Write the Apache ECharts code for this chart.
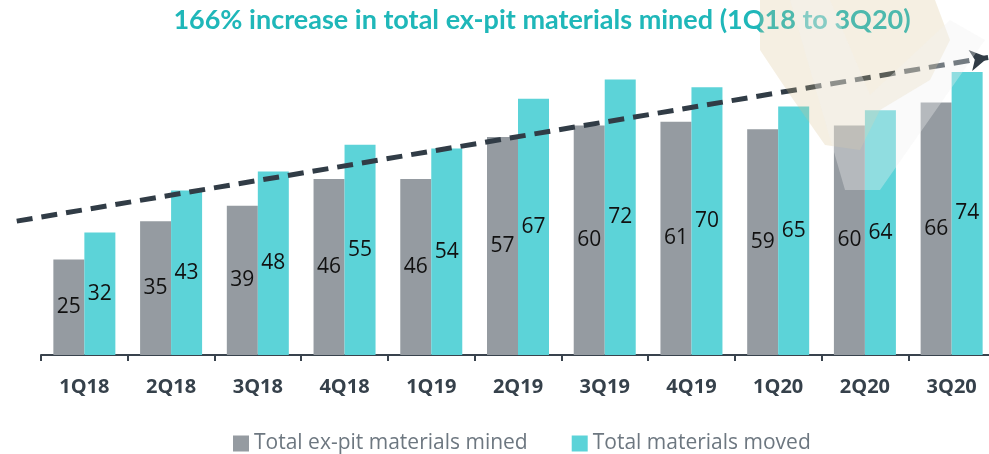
<!DOCTYPE html>
<html><head><meta charset="utf-8">
<script src="https://cdn.jsdelivr.net/npm/echarts@6/dist/echarts.min.js"></script>
<style>html,body{margin:0;padding:0;background:#fff}#c{width:989px;height:454px}</style>
</head><body><div id="c"></div>
<script>
const categories = ['1Q18','2Q18','3Q18','4Q18','1Q19','2Q19','3Q19','4Q19','1Q20','2Q20','3Q20'];
const exPitMined = [25,35,39,46,46,57,60,61,59,60,66];
const materialsMoved = [32,43,48,55,54,67,72,70,65,64,74];
const seriesNames = ['Total ex-pit materials mined','Total materials moved'];
const titleText = '166% increase in total ex-pit materials mined (1Q18 to 3Q20)';
// trend arrow in category-index / value units
const trendStart = [-0.78, 35];
const trendEnd = [10.42, 77.8];

const chart = echarts.init(document.getElementById('c'));
const labelStyle = {show:true, position:'inside', color:'#111', fontSize:21, fontFamily:'Open Sans'};
chart.setOption({
  animation:false,
  title:{text:titleText, left:537, top:2, textAlign:'center',
    textStyle:{color:'#1fb7b9', fontSize:27, fontWeight:'bold', fontFamily:'Lato'}},
  legend:{top:428, left:228, itemWidth:16, itemHeight:16, itemGap:44, icon:'rect',
    textStyle:{color:'#6d7780', fontSize:21, fontFamily:'Open Sans'},
    data:seriesNames},
  grid:[{left:41, right:-6, top:49, bottom:99, outerBoundsMode:'none'},
        {left:0, right:0, top:49, bottom:99, outerBoundsMode:'none'}],
  xAxis:[{type:'category', gridIndex:0, data:categories,
    axisLine:{lineStyle:{color:'#39434d', width:2}},
    axisTick:{show:true, length:6, lineStyle:{color:'#39434d', width:2}},
    axisLabel:{color:'#36414b', fontSize:20, fontWeight:'bold', fontFamily:'Open Sans', margin:22}},
    {type:'value', gridIndex:1, min:-0.973, max:10.43, show:false}],
  yAxis:[{type:'value', gridIndex:0, min:0, max:80, show:false, splitLine:{show:false}},
         {type:'value', gridIndex:1, min:0, max:80, show:false, splitLine:{show:false}}],
  series:[
    {name:seriesNames[0], type:'bar', data:exPitMined, barWidth:31, barGap:'0%',
      itemStyle:{color:'#959ba1'}, label:labelStyle},
    {name:seriesNames[1], type:'bar', data:materialsMoved, barWidth:31, barGap:'0%',
      itemStyle:{color:'#5cd3d8'}, label:labelStyle},
    {type:'line', xAxisIndex:1, yAxisIndex:1, silent:true, z:10,
      data:[trendStart, trendEnd], symbol:'none', lineStyle:{width:0, opacity:0},
      markLine:{silent:true, symbol:['none','arrow'], symbolSize:[16,18],
        label:{show:false}, emphasis:{disabled:true},
        lineStyle:{color:'#313c46', width:5, type:[16,9], opacity:1},
        data:[[{coord:trendStart},{coord:trendEnd}]]}}
  ],
  graphic:[
    {type:'polygon', z:100, silent:true,
      shape:{points:[[760,0],[935,0],[950,40],[930,80],[880,110],[860,150],[825,145],[790,95],[760,50]]},
      style:{fill:'rgba(214,190,140,0.25)'}},
    {type:'polygon', z:101, silent:true,
      shape:{points:[[790,0],[830,0],[870,95],[950,20],[985,40],[880,190],[845,190]]},
      style:{fill:'rgba(240,240,242,0.35)'}}
  ]
});
</script></body></html>
